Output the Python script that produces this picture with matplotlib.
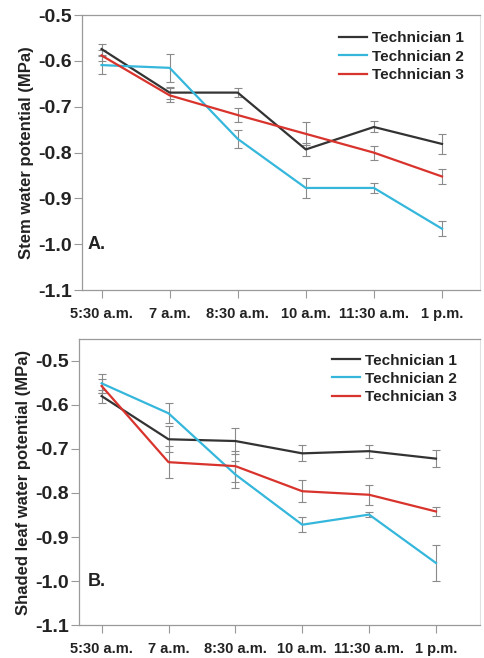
import matplotlib.pyplot as plt
import numpy as np

plt.rcParams["font.family"] = ["Liberation Sans", "DejaVu Sans"]
plt.rcParams["font.weight"] = "bold"

# ----- Data -----
times = ["5:30 a.m.", "7 a.m.", "8:30 a.m.", "10 a.m.", "11:30 a.m.", "1 p.m."]
technicians = ["Technician 1", "Technician 2", "Technician 3"]
colors = ["#333333", "#35b7dc", "#d8332c"]

# Panel A: stem water potential (MPa)
stem_t1 = [-0.574, -0.669, -0.669, -0.793, -0.744, -0.781]
stem_t2 = [-0.609, -0.615, -0.770, -0.877, -0.877, -0.966]
stem_t3 = [-0.588, -0.675, -0.718, -0.759, -0.800, -0.852]
stem_t1_err = [0.012, 0.013, 0.010, 0.015, 0.012, 0.022]
stem_t2_err = [0.020, 0.030, 0.020, 0.022, 0.010, 0.016]
stem_t3_err = [0.012, 0.015, 0.015, 0.025, 0.015, 0.016]

# Panel B: shaded leaf water potential (MPa)
leaf_t1 = [-0.580, -0.678, -0.682, -0.710, -0.705, -0.722]
leaf_t2 = [-0.551, -0.619, -0.758, -0.872, -0.849, -0.959]
leaf_t3 = [-0.557, -0.730, -0.739, -0.796, -0.804, -0.842]
leaf_t1_err = [0.015, 0.030, 0.030, 0.018, 0.015, 0.020]
leaf_t2_err = [0.022, 0.023, 0.030, 0.017, 0.005, 0.040]
leaf_t3_err = [0.015, 0.036, 0.035, 0.025, 0.023, 0.010]


def draw_panel(ax, series, errors, ylabel, letter, ylim, xpad, legend_anchor):
    x = np.arange(len(times))
    for vals, errs, col, name in zip(series, errors, colors, technicians):
        ax.errorbar(x, vals, yerr=errs, fmt="none", ecolor="#8a8a8a",
                    elinewidth=0.8, capsize=3, capthick=0.8, zorder=2)
        ax.plot(x, vals, color=col, linewidth=1.6, label=name, zorder=3)

    ax.set_xlim(xpad)
    ax.set_ylim(ylim)
    ax.set_xticks(x)
    ax.set_xticklabels(times, fontsize=10.5, fontweight="bold", color="#222222")
    yt = [-1.1, -1.0, -0.9, -0.8, -0.7, -0.6, -0.5]
    ax.set_yticks(yt)
    ax.set_yticklabels(["-1.1", "-1.0", "-0.9", "-0.8", "-0.7", "-0.6", "-0.5"],
                       fontsize=14, fontweight="bold", color="#222222")
    ax.tick_params(axis="y", length=6, width=0.8, color="#999999", pad=1)
    ax.tick_params(axis="x", length=6, width=0.8, color="#999999", pad=6)
    ax.set_ylabel(ylabel, fontsize=12, fontweight="bold", color="#222222", labelpad=3)

    for side in ["left", "bottom", "top"]:
        ax.spines[side].set_color("#9a9a9a")
        ax.spines[side].set_linewidth(0.9)
    ax.spines["right"].set_color("#e0e0e0")
    ax.spines["right"].set_linewidth(0.8)

    ax.text(-0.07, -1.0, letter, fontsize=13, fontweight="bold",
            color="#222222", ha="center", va="center")

    leg = ax.legend(loc="upper right", frameon=False, fontsize=11,
                    handlelength=1.8, handletextpad=0.35, labelspacing=0.28,
                    borderaxespad=0.0, bbox_to_anchor=legend_anchor)
    for txt in leg.get_texts():
        txt.set_fontweight("bold")
        txt.set_color("#222222")


fig = plt.figure(figsize=(4.84, 6.58), dpi=100)
ax_a = fig.add_axes([0.169, 0.559, 0.823, 0.418])
ax_b = fig.add_axes([0.163, 0.050, 0.829, 0.435])

draw_panel(ax_a, [stem_t1, stem_t2, stem_t3],
           [stem_t1_err, stem_t2_err, stem_t3_err],
           "Stem water potential (MPa)", "A.", (-1.1, -0.5), (-0.29, 5.56),
           (0.975, 0.963))
draw_panel(ax_b, [leaf_t1, leaf_t2, leaf_t3],
           [leaf_t1_err, leaf_t2_err, leaf_t3_err],
           "Shaded leaf water potential (MPa)", "B.", (-1.1, -0.45), (-0.34, 5.66),
           (0.958, 0.97))

fig.savefig("out.png", dpi=100)
